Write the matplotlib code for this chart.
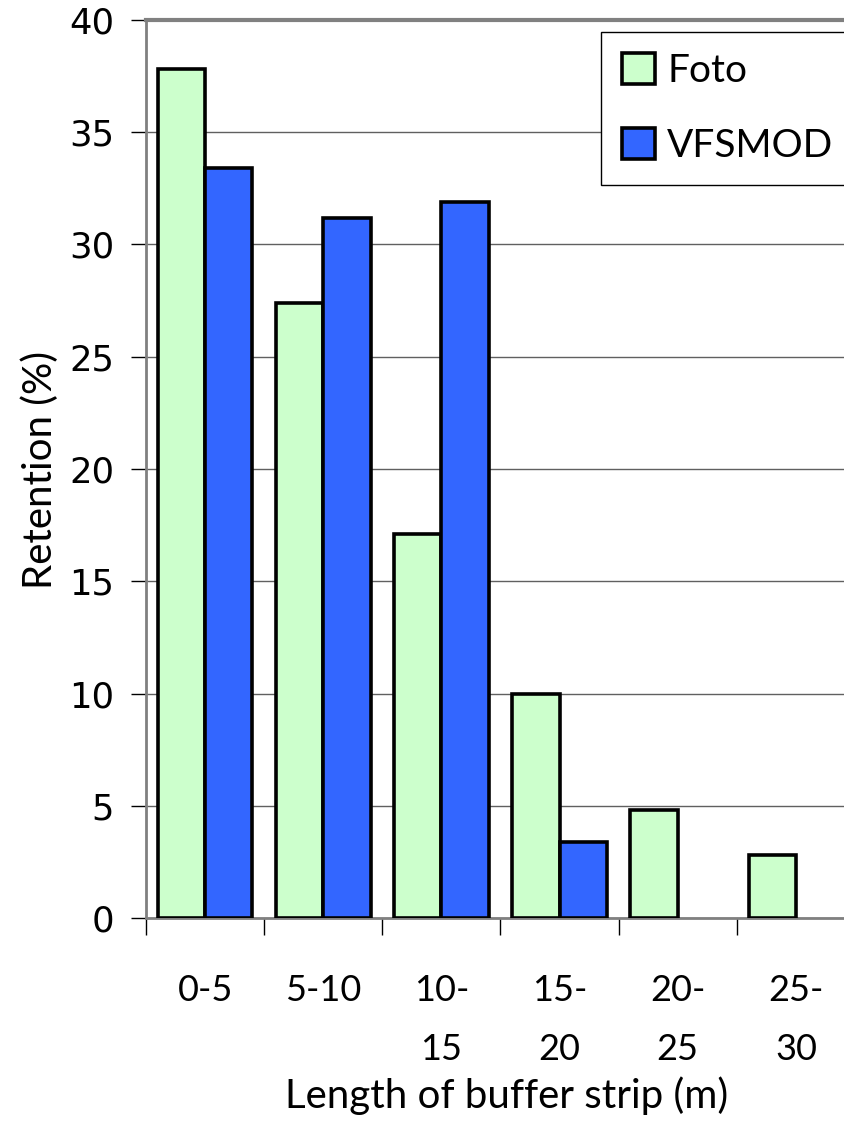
import matplotlib
matplotlib.use("Agg")
import matplotlib.pyplot as plt
import numpy as np

# Retention by buffer strip length, observed (Foto) vs modelled (VFSMOD)
categories = ["0-5", "5-10", "10-\n15", "15-\n20", "20-\n25", "25-\n30"]
foto = [37.8, 27.4, 17.1, 10.0, 4.8, 2.8]
vfsmod = [33.4, 31.2, 31.9, 3.4, 0, 0]

FOTO_COLOR = "#CCFFCC"
VFSMOD_COLOR = "#3366FF"
GRAY = "#808080"

fig = plt.figure(figsize=(8.44, 11.28), dpi=100)
ax = fig.add_axes([146 / 844, 1 - 918.3 / 1128, 709 / 844, (918.3 - 19.9) / 1128])

x = np.arange(len(categories))
w = 0.4
b1 = ax.bar(x - w / 2, foto, w, color=FOTO_COLOR, edgecolor="black",
            linewidth=2.6, label="Foto", zorder=3)
b2 = ax.bar(x + w / 2, vfsmod, w, color=VFSMOD_COLOR, edgecolor="black",
            linewidth=2.6, label="VFSMOD", zorder=3)
# empty bars should not leave an outline on the baseline
for bars in (b1, b2):
    for p in bars:
        if p.get_height() == 0:
            p.set_visible(False)

ax.set_xlim(-0.5, len(categories) - 0.5)
ax.set_ylim(0, 40)
ax.set_yticks(range(0, 41, 5))
ax.yaxis.grid(True, color="#606060", linewidth=1.0, zorder=0)

# category boundaries carry the tick marks, labels sit in the middle
ax.set_xticks(np.arange(len(categories) + 1) - 0.5)
ax.set_xticklabels([])
ax.set_xticks(x, minor=True)
ax.set_xticklabels(categories, minor=True, fontfamily="Lato", fontsize=26,
                   linespacing=1.95)
ax.tick_params(axis="x", which="minor", length=0, pad=40)
ax.tick_params(axis="x", which="major", length=12, width=1.0, direction="out")
ax.tick_params(axis="y", length=11, width=1.0, direction="out",
               labelsize=25.5, pad=12)

for side in ["left", "bottom"]:
    ax.spines[side].set_color(GRAY)
    ax.spines[side].set_linewidth(2.0)
ax.spines["top"].set_color(GRAY)
ax.spines["top"].set_linewidth(3.0)
ax.spines["right"].set_visible(False)

ax.set_ylabel("Retention (%)", fontfamily="Lato", fontsize=29)
ax.yaxis.set_label_coords((59 - 146) / 709, 0.499)
ax.set_xlabel("Length of buffer strip (m)", fontfamily="Lato", fontsize=29)
ax.xaxis.set_label_coords(0.5 + 6 / 709, (918.3 - 1108) / 898.4)
ax.xaxis.label.set_va("baseline")

leg = fig.legend(loc="upper left", bbox_to_anchor=(601 / 844, 1 - 31.7 / 1128),
                 prop={"family": "Lato", "size": 28}, frameon=True,
                 fancybox=False, edgecolor="black", framealpha=1,
                 handlelength=0.85, handleheight=0.85, handletextpad=0.3,
                 labelspacing=1.0, borderpad=0.55, borderaxespad=0)
leg.get_frame().set_linewidth(1.0)

fig.savefig("out.png", dpi=100)
